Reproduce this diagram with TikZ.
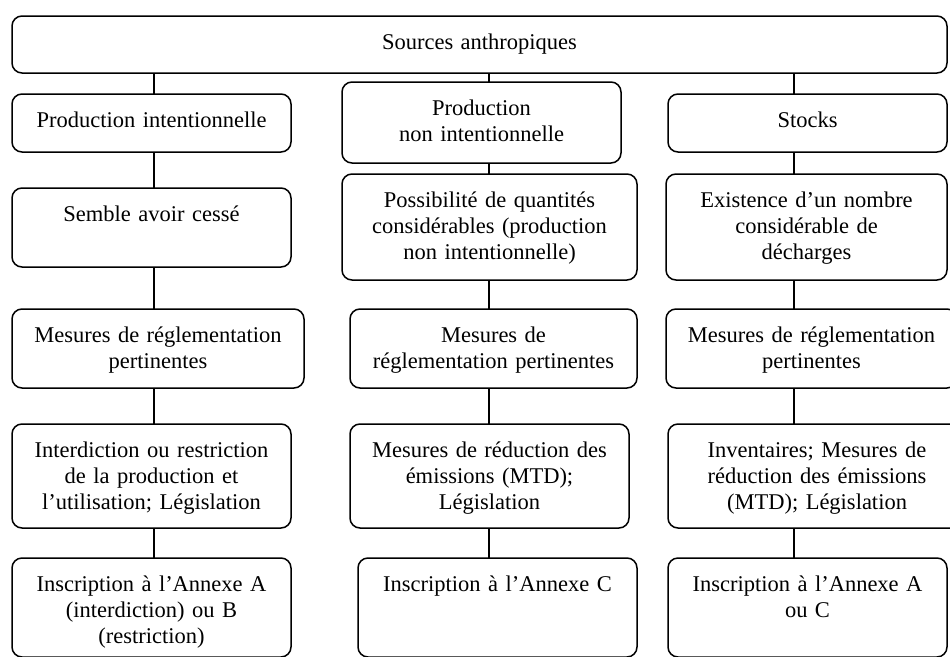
\documentclass[tikz,border=0pt]{standalone}
\usepackage{fontspec}
\setmainfont{Liberation Serif}

\begin{document}
\begin{tikzpicture}[x=1pt,y=-1pt,
  box/.style 2 args={draw, line width=1.5pt, rounded corners=10pt, anchor=north west,
    inner sep=0pt, outer sep=0pt, align=center, text width=#1pt,
    text height=33pt, text depth=#2pt,
    font=\fontsize{22.5}{26}\selectfont},
  link/.style={line width=1.5pt}]

\useasboundingbox (0,0) rectangle (950,656);
\clip (0,0) rectangle (950,656);

\coordinate (colL) at (154,0);
\coordinate (colM) at (489,0);
\coordinate (colR) at (794,0);

\node[box={935}{24}] (src) at (12,16) {Sources anthropiques};

\node[box={279}{25}] (intent) at (12,94) {Production intentionnelle};
\node[box={279}{48}] (nonintent) at (342,82) {Production\\ non intentionnelle};
\node[box={279}{25}] (stocks) at (668,94) {Stocks};

\node[box={279}{46}] (cesse) at (12,188) {Semble avoir cessé};
\node[box={295}{73}] (quant) at (342,174) {Possibilité de quantités\\ considérables (production\\ non intentionnelle)};
\node[box={281}{73}] (decharges) at (666,174) {Existence d’un nombre\\ considérable de\\ décharges};

\node[box={292}{46}] (reglL) at (12,309) {Mesures de réglementation\\ pertinentes};
\node[box={287}{46}] (reglM) at (350,309) {Mesures de\\ réglementation pertinentes};
\node[box={291}{46}] (reglR) at (666,309) {Mesures de réglementation\\ pertinentes};

\node[box={279}{71}] (interdit) at (12,424) {Interdiction ou restriction\\ de la production et\\ l’utilisation; Législation};
\node[box={279}{71}] (reduc) at (350,424) {Mesures de réduction des\\ émissions (MTD);\\ Législation};
\node[box={298}{71}] (invent) at (668,424) {Inventaires; Mesures de\\ réduction des émissions\\ (MTD); Législation};

\node[box={279}{66}] (annAB) at (12,558) {Inscription à l’Annexe A\\ (interdiction) ou B\\ (restriction)};
\node[box={279}{66}] (annC) at (358,558) {Inscription à l’Annexe C};
\node[box={279}{66}] (annAC) at (668,558) {Inscription à l’Annexe A\\ ou C};

% left column
\draw[link] (src.south -| colL) -- (intent.north -| colL);
\draw[link] (intent.south -| colL) -- (cesse.north -| colL);
\draw[link] (cesse.south -| colL) -- (reglL.north -| colL);
\draw[link] (reglL.south -| colL) -- (interdit.north -| colL);
\draw[link] (interdit.south -| colL) -- (annAB.north -| colL);

% middle column
\draw[link] (src.south -| colM) -- (nonintent.north -| colM);
\draw[link] (nonintent.south -| colM) -- (quant.north -| colM);
\draw[link] (quant.south -| colM) -- (reglM.north -| colM);
\draw[link] (reglM.south -| colM) -- (reduc.north -| colM);
\draw[link] (reduc.south -| colM) -- (annC.north -| colM);

% right column
\draw[link] (src.south -| colR) -- (stocks.north -| colR);
\draw[link] (stocks.south -| colR) -- (decharges.north -| colR);
\draw[link] (decharges.south -| colR) -- (reglR.north -| colR);
\draw[link] (reglR.south -| colR) -- (invent.north -| colR);
\draw[link] (invent.south -| colR) -- (annAC.north -| colR);

\end{tikzpicture}
\end{document}
